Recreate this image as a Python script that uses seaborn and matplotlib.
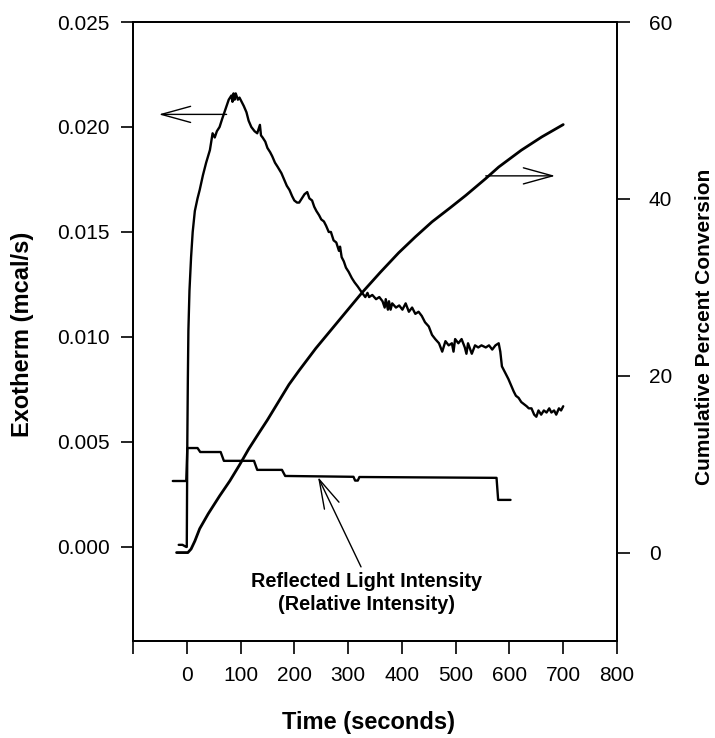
import numpy as np
import pandas as pd
import matplotlib
matplotlib.use("Agg")
import matplotlib.pyplot as plt
import seaborn as sns

# ---------------- data ----------------
exo_time = [-15, -8, -1, 0, 1, 2, 3, 5, 8, 11, 15, 20, 24, 30, 36, 43, 46, 48, 52, 56, 61, 66, 70, 74,
            78, 83, 85, 87, 89, 91, 95, 98, 102, 106, 111, 115, 120, 126, 131, 136, 138, 141, 146, 150, 155,
            159, 164, 169, 176, 181, 186, 191, 196, 200, 205, 209, 214, 219, 224, 228, 233, 237,
            241, 246, 250, 255, 259, 264, 268, 273, 278, 283, 285, 288, 292, 296, 301, 307, 312, 318,
            326, 332, 336, 339, 345, 352, 358, 364, 368, 370, 374, 376, 379, 382, 389, 395, 401, 407, 413, 419, 425,
            431, 437, 443, 450, 456, 462, 469, 475, 481, 487, 493, 496, 499, 505, 511, 517, 520, 523, 530,
            536, 542, 548, 556, 562, 568, 574, 580, 583, 586, 590, 594, 598, 603, 608, 612, 617,
            622, 627, 632, 636, 641, 646, 650, 654, 659, 664, 669, 674, 678, 683, 687, 692, 696, 700]
exo_value = [0.0001, 0.0001, 0.0000, 0.0000, 0.0050, 0.0080, 0.0103, 0.0122, 0.0138, 0.0150,
             0.0160, 0.0166, 0.0170, 0.0177, 0.0183, 0.0189, 0.0194, 0.0197, 0.0195, 0.0198, 0.0200,
             0.0204, 0.0207, 0.0210, 0.0213, 0.0215, 0.0212, 0.0216, 0.0213, 0.0216, 0.0213, 0.0214, 0.0212,
             0.0210, 0.0207, 0.0203, 0.0200, 0.0198, 0.0197, 0.0201, 0.0196, 0.0195, 0.0193, 0.0190,
             0.0188, 0.0186, 0.0183, 0.0181, 0.0178, 0.0175, 0.0172, 0.0170, 0.0167, 0.0165,
             0.0164, 0.0164, 0.0166, 0.0168, 0.0169, 0.0166, 0.0165, 0.0162, 0.0160, 0.0158,
             0.0156, 0.0155, 0.0153, 0.0150, 0.0150, 0.0146, 0.0145, 0.0141, 0.0143, 0.0138, 0.0136,
             0.0133, 0.0131, 0.0128, 0.0126, 0.0124, 0.0121, 0.0119, 0.0121, 0.0119, 0.0120, 0.0118,
             0.0119, 0.0117, 0.0114, 0.0118, 0.0113, 0.0117, 0.0113, 0.0116, 0.0114, 0.0115, 0.0113,
             0.0116, 0.0112, 0.0114, 0.0111, 0.0112, 0.0110, 0.0107, 0.0105, 0.0101, 0.0099, 0.0097,
             0.0093, 0.0098, 0.0096, 0.0097, 0.0093, 0.0099, 0.0097, 0.0099, 0.0095, 0.0092, 0.0097,
             0.0092, 0.0096, 0.0095, 0.0096, 0.0095, 0.0096, 0.0094, 0.0096, 0.0097, 0.0093, 0.0086,
             0.0084, 0.0082, 0.0080, 0.0077, 0.0074, 0.0072, 0.0071, 0.0069, 0.0068, 0.0067, 0.0066,
             0.0066, 0.0063, 0.0062, 0.0065, 0.0063, 0.0065, 0.0064, 0.0066, 0.0064, 0.0065,
             0.0063, 0.0066, 0.0065, 0.0067]

conv_time = [-19, 2, 8, 15, 24, 40, 61, 80, 98, 115, 135, 150, 172, 190, 209, 240, 270, 300,
             326, 360, 394, 425, 456, 490, 519, 556, 580, 622, 660, 700]
conv_value = [0.0, 0.0, 0.4, 1.3, 2.7, 4.4, 6.4, 8.1, 9.9, 11.7, 13.6, 15.0, 17.2, 19.0, 20.6,
              23.1, 25.3, 27.5, 29.4, 31.7, 33.9, 35.7, 37.4, 39.0, 40.4, 42.3, 43.6, 45.5,
              47.0, 48.4]

light_time = [-26, -1, 1, 20, 25, 63, 69, 125, 131, 177, 183, 310, 313, 318, 321, 576, 579, 602]
light_value = [0.00314, 0.00314, 0.00471, 0.00471, 0.00452, 0.00452, 0.00410, 0.00410, 0.00367,
               0.00367, 0.00338, 0.00334, 0.00316, 0.00316, 0.00333, 0.00329, 0.00224, 0.00224]

x_ticks = [-100, 0, 100, 200, 300, 400, 500, 600, 700, 800]
x_tick_labels = ["", "0", "100", "200", "300", "400", "500", "600", "700", "800"]
left_ticks = [0.000, 0.005, 0.010, 0.015, 0.020, 0.025]
left_tick_labels = ["0.000", "0.005", "0.010", "0.015", "0.020", "0.025"]
right_ticks = [0, 20, 40, 60]
right_tick_labels = ["0", "20", "40", "60"]

# ---------------- style ----------------
sns.set_style("ticks")
plt.rcParams["font.family"] = ["Liberation Sans", "DejaVu Sans"]
plt.rcParams["text.color"] = "black"
plt.rcParams["axes.labelcolor"] = "black"
plt.rcParams["xtick.color"] = "black"
plt.rcParams["ytick.color"] = "black"

fig = plt.figure(figsize=(7.15, 7.38), dpi=100)
ax1 = fig.add_axes([133 / 715, 1 - 641 / 738, (617 - 133) / 715, (641 - 22) / 738])
ax2 = ax1.twinx()

exo_df = pd.DataFrame({"time": exo_time, "value": exo_value})
conv_df = pd.DataFrame({"time": conv_time, "value": conv_value})
light_df = pd.DataFrame({"time": light_time, "value": light_value})

sns.lineplot(data=exo_df, x="time", y="value", ax=ax1, color="black", lw=1.7,
             sort=False, estimator=None)
sns.lineplot(data=light_df, x="time", y="value", ax=ax1, color="black", lw=1.7,
             sort=False, estimator=None)
sns.lineplot(data=conv_df, x="time", y="value", ax=ax2, color="black", lw=2.0,
             sort=False, estimator=None)

ax1.set_xlim(-100, 800)
ax1.set_ylim(-0.00448, 0.025)
ax2.set_ylim(-10, 60)

ax1.set_xticks(x_ticks)
ax1.set_xticklabels(x_tick_labels)
ax1.set_yticks(left_ticks)
ax1.set_yticklabels(left_tick_labels)
ax2.set_yticks(right_ticks)
ax2.set_yticklabels(right_tick_labels)

for ax in (ax1, ax2):
    for s in ax.spines.values():
        s.set_visible(True)
        s.set_linewidth(1.3)
        s.set_color("black")
ax1.tick_params(axis="both", direction="out", length=9, width=1.2, labelsize=15,
                colors="black", pad=8)
ax1.tick_params(axis="x", pad=9)
ax2.tick_params(axis="y", direction="out", length=9, width=1.2, labelsize=15,
                colors="black", pad=14)

ax1.set_xlabel("Time (seconds)", fontsize=17, fontweight="bold", color="black")
ax1.xaxis.set_label_coords((368 - 133) / 484, -(722 - 641) / 619)
ax1.xaxis.label.set_va("center")
ax1.set_ylabel("Exotherm (mcal/s)", fontsize=17, fontweight="bold", va="center",
               color="black")
ax1.yaxis.set_label_coords((23 - 133) / 484, (641 - 334) / 619)
ax2.set_ylabel("Cumulative Percent Conversion", fontsize=15, fontweight="bold",
               va="center", rotation=90, color="black")
ax2.yaxis.set_label_coords((705 - 133) / 484, (641 - 327) / 619)

# ---------------- arrows & annotation ----------------
astyle = "->,head_length=21,head_width=5.8"
ax1.annotate("", xy=(-52, 0.0206), xytext=(74, 0.0206), xycoords="data",
             arrowprops=dict(arrowstyle=astyle, mutation_scale=1, lw=1.0, color="black",
                             shrinkA=0, shrinkB=0))
ax2.annotate("", xy=(685, 42.6), xytext=(556, 42.6), xycoords="data",
             arrowprops=dict(arrowstyle=astyle, mutation_scale=1, lw=1.0, color="black",
                             shrinkA=0, shrinkB=0))
ax1.annotate("", xy=(244, 0.00333), xytext=(324, -0.00095), xycoords="data",
             arrowprops=dict(arrowstyle=astyle, mutation_scale=1, lw=1.0, color="black",
                             shrinkA=0, shrinkB=0))
ax1.text(335, -0.00220, "Reflected Light Intensity\n(Relative Intensity)", ha="center",
         va="center", fontsize=14.3, fontweight="bold", linespacing=1.3, color="black")

fig.savefig("out.png", dpi=100)
